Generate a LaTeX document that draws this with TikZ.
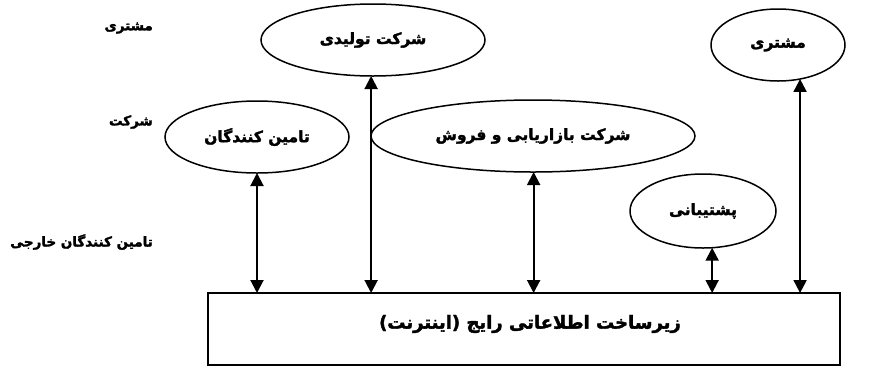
\documentclass[tikz,border=0pt]{standalone}
\usepackage{fontspec}
\newfontfamily\fa[Script=Arabic,BoldFeatures={FakeBold=2}]{DejaVu Sans}
\TeXXeTstate=1
\usetikzlibrary{shapes.geometric,arrows.meta}
\tikzset{
  oval/.style={ellipse,draw,line width=1.5pt,inner sep=0pt,outer sep=0pt,font=\fa\bfseries\fontsize{15.5}{18}\selectfont},
  sidelbl/.style={anchor=east,inner sep=0pt,font=\fa\bfseries\fontsize{13.5}{16}\selectfont},
  infra/.style={rectangle,draw,line width=1.5pt,inner sep=0pt,outer sep=0pt,minimum width=632pt,minimum height=72pt},
  infralbl/.style={inner sep=0pt,font=\fa\bfseries\fontsize{18}{21}\selectfont},
  biarrow/.style={line width=2pt,{Triangle[length=13pt,width=13pt]}-{Triangle[length=13pt,width=13pt]}},
}
\begin{document}
\begin{tikzpicture}[x=1pt,y=-1pt]
\useasboundingbox[fill=white] (0,0) rectangle (872,368);
% side labels
\node[sidelbl] (l1) at (153,28) {\beginR مشتری\endR};
\node[sidelbl] (l2) at (153,122) {\beginR شرکت\endR};
\node[sidelbl] (l3) at (153,242) {\beginR تامین کنندگان خارجی\endR};
% ellipses
\node[oval,minimum width=224pt,minimum height=72pt] (tl) at (373,40) {\beginR شرکت تولیدی\endR};
\node[oval,minimum width=134pt,minimum height=72pt] (ms) at (778,45) {\beginR مشتری\endR};
\node[oval,minimum width=184pt,minimum height=72pt] (tm) at (257,137) {\beginR تامین کنندگان\endR};
\node[oval,minimum width=324pt,minimum height=72pt] (bz) at (533,136) {\beginR شرکت بازاریابی و فروش\endR};
\node[oval,minimum width=146pt,minimum height=74pt] (ps) at (703,211) {\beginR پشتیبانی\endR};
% infrastructure box
\node[infra] (box) at (524,329) {};
\node[infralbl] (boxlbl) at (530,324) {\beginR زیرساخت اطلاعاتی رایج (اینترنت)\endR};
% connectors
\draw[biarrow] (tm.south) -- (tm.south |- box.north);
\draw[biarrow] (tl.-93) -- (tl.-93 |- box.north);
\draw[biarrow] (bz.-89) -- (bz.-89 |- box.north);
\draw[biarrow] (ps.-76) -- (ps.-76 |- box.north);
\draw[biarrow] (ms.-57) -- (ms.-57 |- box.north);
\end{tikzpicture}
\end{document}
